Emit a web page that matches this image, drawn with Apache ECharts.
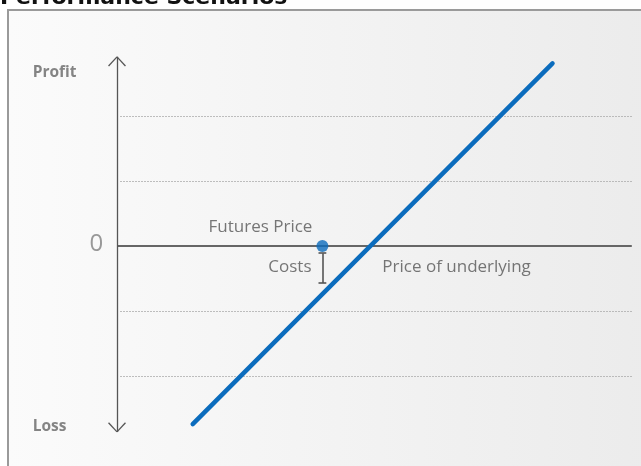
<!DOCTYPE html>
<html>
<head>
<meta charset="utf-8">
<script src="https://cdn.jsdelivr.net/npm/echarts@6/dist/echarts.min.js"></script>
<style>
html,body{margin:0;padding:0;background:#fff;}
#c{width:641px;height:466px;}
</style>
</head>
<body>
<div id="c"></div>
<script>
// ---- data ----
const payoffLine = [[1.165, -2.74], [6.70, 2.81]];      // long futures payoff
const futuresPoint = [3.16, 0];                          // futures price
const costBracket = [[3.16, -0.11], [3.16, -0.57]];     // costs
const gridValues = [2, 1, -1, -2];                       // dotted guide levels
const zeroLine = [[0, 0], [7.92, 0]];
const profitAxis = [[0, -2.86], [0, 2.91]];
const labelTexts = ['Profit', 'Loss', '0', 'Futures Price', 'Costs', 'Price of underlying'];
const labelPos = [[-1.29, 2.66], [-1.29, -2.785], [-0.31, 0.02], [2.215, 0.277], [3.0, -0.338], [4.09, -0.338]];

// ---- chart ----
const chart = echarts.init(document.getElementById('c'), null, {renderer: 'canvas'});
const gridLeft = 0, gridTop = 51, gridRight = 4, gridBottom = 25;

const seg = (a, b) => [{coord: a}, {coord: b}];
const arrowW = 0.13, arrowH = 0.14;
const axTop = profitAxis[1], axBot = profitAxis[0];
const axisSegs = [
  seg(axBot, axTop),
  seg([axTop[0] - arrowW, axTop[1] - arrowH], axTop),
  seg([axTop[0] + arrowW, axTop[1] - arrowH], axTop),
  seg([axBot[0] - arrowW, axBot[1] + arrowH], axBot),
  seg([axBot[0] + arrowW, axBot[1] + arrowH], axBot)
];
const capW = 0.06;
const bracketSegs = [
  seg(costBracket[0], costBracket[1]),
  seg([costBracket[0][0] - capW, costBracket[0][1]], [costBracket[0][0] + capW, costBracket[0][1]]),
  seg([costBracket[1][0] - capW, costBracket[1][1]], [costBracket[1][0] + capW, costBracket[1][1]])
];
const gridSegs = gridValues.map(v => seg([0.05, v], [7.92, v]));

const labelStyles = [
  {align: 'left', fontSize: 15.5, fontWeight: 'bold', color: '#666'},
  {align: 'left', fontSize: 15.5, fontWeight: 'bold', color: '#666'},
  {align: 'center', fontSize: 24, fontWeight: 'normal', color: '#808080'},
  {align: 'center', fontSize: 17, fontWeight: 'normal', color: '#555'},
  {align: 'right', fontSize: 17, fontWeight: 'normal', color: '#555'},
  {align: 'left', fontSize: 17, fontWeight: 'normal', color: '#555'}
];
const labelData = labelTexts.map((t, i) => ({
  value: labelPos[i],
  name: t,
  label: Object.assign({show: true, formatter: t, position: [0, 0], verticalAlign: 'middle',
    fontFamily: 'Open Sans'}, labelStyles[i])
}));

chart.setOption({
  animation: false,
  backgroundColor: '#ffffff',
  graphic: [
    {type: 'rect', z: -10, silent: true,
     shape: {x: 8, y: 10, width: 700, height: 500},
     style: {fill: new echarts.graphic.LinearGradient(0, 0, 1, 0, [
        {offset: 0, color: '#fbfbfb'}, {offset: 1, color: '#eaeaea'}]),
       stroke: '#9a9a9a', lineWidth: 2}},
    {type: 'text', left: 0, top: -13, z: 10,
     style: {text: 'Performance Scenarios', font: 'bold 22px "DejaVu Sans"', fill: '#111'}}
  ],
  grid: {left: gridLeft, top: gridTop, right: gridRight, bottom: gridBottom},
  xAxis: {type: 'value', min: -1.8, max: 8, show: false, splitLine: {show: false}},
  yAxis: {type: 'value', min: -3, max: 3, interval: 1, show: false, splitLine: {show: false}},
  series: [
    {type: 'line', data: [], clip: false, silent: true,
     markLine: {silent: true, symbol: 'none', animation: false, label: {show: false},
       lineStyle: {color: '#aaa', width: 1, type: [1.5, 1.5]}, data: gridSegs}},
    {type: 'line', data: [], clip: false, silent: true,
     markLine: {silent: true, symbol: 'none', animation: false, label: {show: false},
       lineStyle: {color: '#666', width: 2, type: 'solid'}, data: [seg(zeroLine[0], zeroLine[1])]}},
    {type: 'line', data: [], clip: false, silent: true,
     markLine: {silent: true, symbol: 'none', animation: false, label: {show: false},
       lineStyle: {color: '#555', width: 1.3, type: 'solid'}, data: axisSegs}},
    {type: 'line', data: [], clip: false, silent: true,
     markLine: {silent: true, symbol: 'none', animation: false, label: {show: false},
       lineStyle: {color: '#555', width: 1.6, type: 'solid'}, data: bracketSegs}},
    {type: 'line', data: payoffLine, clip: false, symbol: 'none', silent: true,
     lineStyle: {color: '#0b6cbd', width: 4.5, cap: 'round'}, z: 5},
    {type: 'scatter', data: [futuresPoint], symbolSize: 12, clip: false, silent: true,
     itemStyle: {color: '#0b6cbd'}, z: 6},
    {type: 'scatter', data: labelData, symbolSize: 1, clip: false, silent: true,
     itemStyle: {color: 'rgba(0,0,0,0)'}, z: 7}
  ]
});
</script>
</body>
</html>
